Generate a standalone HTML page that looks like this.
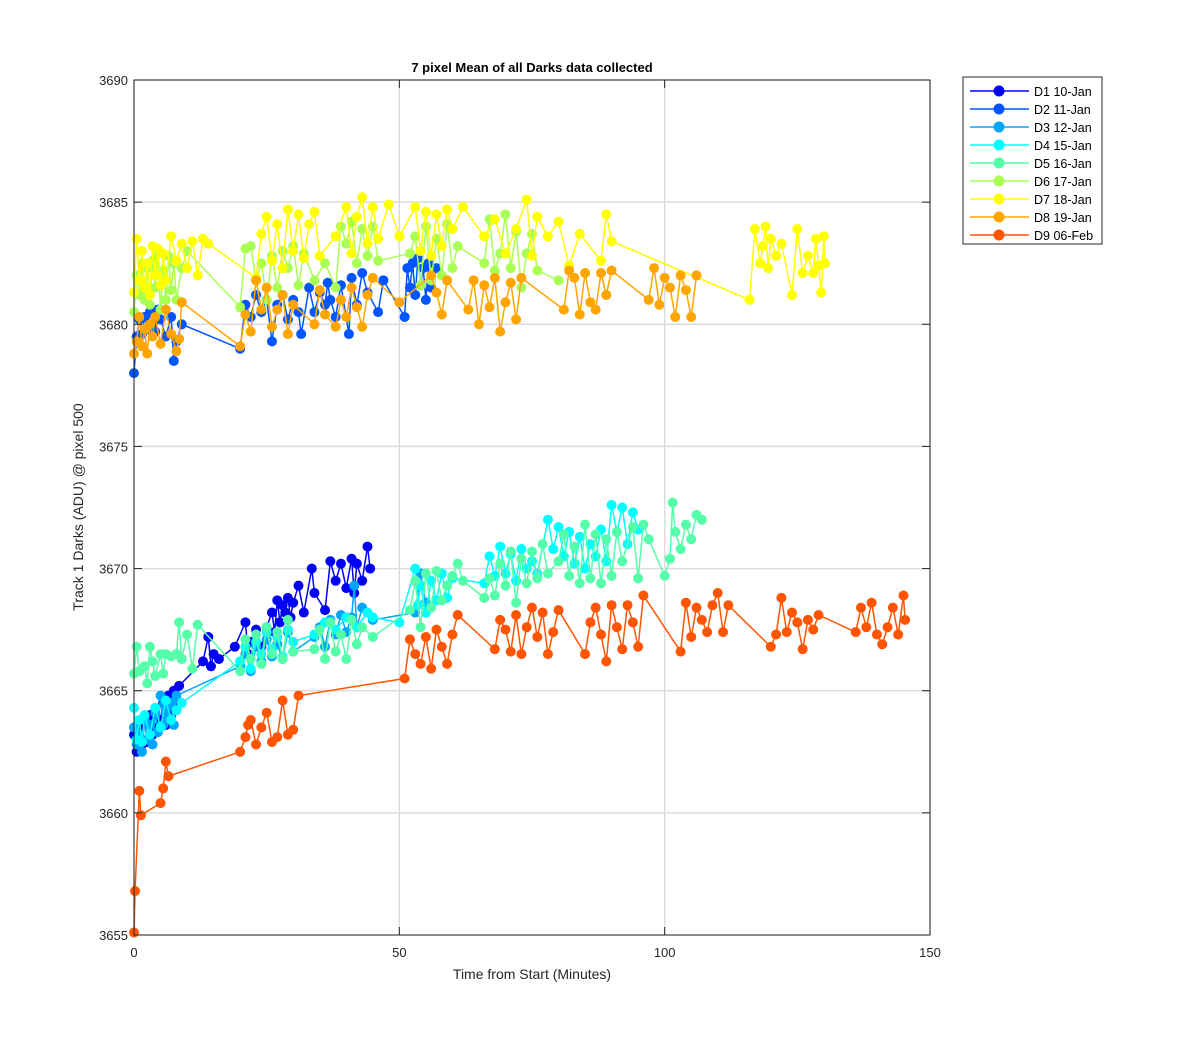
<!DOCTYPE html>
<html><head><meta charset="utf-8"><style>
body{margin:0;background:#fff;}
svg text{font-family:"Liberation Sans",Arial,sans-serif;}
</style></head><body>
<svg id="chart" width="1200" height="1050" xmlns="http://www.w3.org/2000/svg">
<rect x="0" y="0" width="1200" height="1050" fill="#fff"/>
<g id="grid"></g>
<g id="series"></g>
<rect x="134" y="80" width="796" height="855" fill="none" stroke="#262626" stroke-width="1"/>
<g id="ticks"></g>
<text x="532" y="72" text-anchor="middle" font-size="13" font-weight="bold" fill="#000">7 pixel Mean of all Darks data collected</text>
<text x="532" y="979" text-anchor="middle" font-size="14" fill="#262626">Time from Start (Minutes)</text>
<text x="83" y="507" text-anchor="middle" font-size="14" fill="#262626" transform="rotate(-90 83 507)">Track 1 Darks (ADU) @ pixel 500</text>
<g id="legend"></g>
</svg>
<script>
const xTicks=[0,50,100,150];
const yTicks=[3655,3660,3665,3670,3675,3680,3685,3690];
const seriesNames=["D1 10-Jan","D2 11-Jan","D3 12-Jan","D4 15-Jan","D5 16-Jan","D6 17-Jan","D7 18-Jan","D8 19-Jan","D9 06-Feb"];
const d1=[[0,3663.2],[0.5,3662.5],[1,3663.5],[1.5,3662.8],[2,3663.8],[2.5,3662.9],[3,3664],[3.5,3663.2],[4,3664.2],[4.5,3663.5],[5,3663.8],[5.5,3664.5],[6,3663.6],[6.5,3664.8],[7,3664],[7.5,3665],[8,3664.2],[8.5,3665.2],[13,3666.2],[14,3667.2],[14.5,3666],[15,3666.5],[16,3666.3],[19,3666.8],[21,3667.8],[21.5,3666.5],[22,3667],[23,3667.5],[24,3666.8],[25,3667.6],[26,3668.2],[26.5,3667.4],[27,3668.7],[27.5,3667.8],[28,3668.5],[28.5,3668.2],[29,3668.8],[29.5,3668],[30,3668.6],[31,3669.3],[32,3668.2],[33.5,3670],[34,3669],[36,3668.3],[37,3670.3],[38,3669.5],[39,3670.2],[40,3669.2],[41,3670.4],[41.5,3669],[42,3670.2],[43,3669.5],[44,3670.9],[44.5,3670]];
const d2=[[0,3678],[0.5,3679.5],[1,3680.2],[1.5,3679.6],[2,3680.3],[2.5,3679.8],[3,3680.5],[3.5,3680],[4,3679.7],[4.5,3680.6],[5,3680.2],[6,3679.5],[7,3680.3],[7.5,3678.5],[8,3679.3],[9,3680],[20,3679],[21,3680.8],[22,3680.3],[23,3681.2],[24,3680.5],[25,3681],[26,3679.3],[27,3680.8],[28,3681.2],[29,3680.2],[30,3681],[31,3680.5],[31.5,3679.6],[33,3681.5],[34,3680.5],[35,3681.3],[36,3680.8],[36.5,3681.7],[37,3681],[38,3680.3],[39,3681.6],[40.5,3679.6],[41,3681.9],[42,3680.8],[43,3682.1],[44,3681.3],[46,3680.5],[47,3681.8],[51,3680.3],[51.5,3682.3],[52,3681.5],[52.5,3682.5],[53,3681.2],[53.5,3682.7],[54,3681.6],[54.5,3682.3],[55,3681],[55.5,3682.5],[56,3681.5],[57,3682.3]];
const d3=[[0,3663.5],[0.5,3662.8],[1,3663.2],[1.5,3662.5],[2,3663.8],[2.5,3663],[3,3663.6],[3.5,3662.8],[4,3664.1],[4.5,3663.3],[5,3664.8],[5.5,3663.6],[6,3664.3],[6.5,3663.9],[7,3664.5],[7.5,3663.6],[8,3664.8],[20,3666],[21,3666.5],[22,3665.8],[23,3666.8],[24,3666.2],[25,3667.1],[26,3666.4],[27,3666.9],[28,3666.3],[29,3667.4],[30,3666.6],[34,3667.2],[35,3667.6],[36,3666.8],[37,3667.9],[38,3667.3],[39,3668.1],[40,3667.4],[41,3668],[41.5,3669.3],[42,3667.6],[43,3668.4],[45,3667.9],[53,3668.2],[54,3669.8],[55,3668.6]];
const d4=[[0,3664.3],[0.5,3663],[1,3663.8],[1.5,3662.9],[2,3664],[3,3663.2],[4,3664.3],[5,3663.5],[6,3664.6],[7,3663.8],[8,3664.2],[9,3664.5],[20,3666.2],[21,3666.8],[22,3665.9],[23,3667],[24,3666.5],[25,3667.4],[26,3666.7],[27,3667.2],[28,3666.4],[29,3667.5],[30,3667],[34,3667.3],[36,3667.8],[38,3667.5],[40,3668],[42,3667.6],[44,3668.2],[45,3668],[50,3667.8],[53,3670],[53.5,3668.5],[54,3669.3],[55,3668.2],[56,3669.5],[57,3668.7],[58,3669.8],[59,3668.8],[60,3669.6],[66,3669.4],[67,3670.5],[68,3669.7],[69,3670.9],[70,3669.8],[71,3670.6],[72,3669.5],[73,3670.8],[74,3670],[75,3670.3],[76,3669.8],[78,3672],[79,3670.8],[80,3671.7],[81,3670.5],[82,3671.5],[83,3670.2],[84,3671.3],[85,3670],[86,3671],[87,3670.5],[88,3671.6],[89,3670.3],[90,3672.6],[91,3671.5],[92,3672.5],[93,3671],[94,3672.3],[95,3671.6]];
const d5=[[0,3665.7],[0.5,3666.8],[1,3665.8],[2,3666],[2.5,3665.3],[3,3666.8],[3.5,3666.2],[4,3665.6],[5,3666.5],[5.5,3665.7],[6,3666.5],[7,3666.4],[8,3666.5],[8.5,3667.8],[9,3666.3],[10,3667.3],[11,3665.9],[12,3667.7],[20,3665.8],[21,3667.1],[22,3666.3],[23,3667.3],[24,3666.1],[25,3667.6],[26,3666.5],[27,3667.4],[28,3666.3],[29,3667.9],[30,3666.6],[34,3666.7],[35,3667.5],[36,3666.3],[37,3667.8],[38,3666.6],[39,3667.3],[40,3666.3],[41,3667.9],[42,3666.9],[43,3667.6],[45,3667.2],[52,3668.3],[53,3669.5],[54,3667.6],[55,3669.8],[56,3668.4],[57,3669.9],[58,3668.7],[59,3669.3],[60,3669.7],[61,3670.2],[62,3669.5],[66,3668.8],[67,3669.6],[68,3668.9],[69,3670.2],[70,3669.3],[71,3670.7],[72,3668.6],[73,3670.4],[74,3669.4],[75,3670.7],[76,3669.6],[77,3671],[78,3669.8],[80,3670.3],[81,3671.4],[82,3669.7],[83,3670.9],[84,3669.4],[85,3671.8],[86,3669.6],[87,3671.4],[88,3669.4],[89,3671.2],[90,3669.7],[91,3671.5],[92,3670.3],[94,3671.7],[95,3669.6],[96,3671.8],[97,3671.2],[100,3669.7],[101,3670.4],[101.5,3672.7],[102,3671.5],[103,3670.8],[104,3671.8],[105,3671.2],[106,3672.2],[107,3672]];
const d6=[[0,3680.5],[0.5,3682],[1,3681.2],[1.5,3682.5],[2,3681],[2.5,3682.3],[3,3680.8],[3.5,3682.6],[4,3681.5],[4.5,3682.9],[5,3680.6],[5.5,3682.2],[6,3681],[6.5,3682.8],[7,3681.4],[7.5,3682.5],[8,3681],[9,3682.3],[10,3683],[20,3680.7],[21,3683.1],[22,3683.2],[23,3681.8],[24,3682.5],[25,3681],[26,3682.8],[27,3681.5],[28,3683],[29,3682.3],[30,3683.2],[31,3681.6],[32,3682.9],[34,3681.8],[36,3682.5],[38,3681.5],[39,3684],[40,3683.3],[41,3684.2],[42,3682.5],[43,3683.9],[44,3682.8],[45,3684],[46,3682.6],[52,3682.9],[53,3683.6],[54,3681.6],[55,3684],[56,3681.8],[57,3683.5],[58,3682],[59,3684.1],[60,3682.3],[61,3683.2],[66,3682.5],[67,3684.3],[68,3682.2],[69,3682.9],[70,3684.5],[71,3682.3],[72,3683.8],[73,3681.5],[74,3682.9],[75,3683.7],[76,3682.2],[80,3681.8]];
const d7=[[0,3681.3],[0.5,3683.5],[1,3681.8],[1.5,3683],[2,3681.5],[2.5,3682.5],[3,3681.2],[3.5,3683.2],[4,3682],[4.5,3683.1],[5,3681.6],[5.5,3682.9],[6,3681.8],[7,3683.6],[8,3682.6],[9,3683.3],[10,3682.3],[11,3683.4],[12,3682],[13,3683.5],[14,3683.3],[23,3681.9],[24,3683.7],[25,3684.4],[26,3682.6],[27,3684.1],[28,3682.3],[29,3684.7],[30,3683],[31,3684.5],[32,3682.7],[33,3684.1],[34,3684.6],[35,3682.8],[38,3683.6],[40,3684.8],[41,3682.9],[42,3684.4],[43,3685.2],[44,3683.3],[45,3684.8],[46,3683.5],[48,3684.9],[50,3683.6],[53,3684.8],[54,3683],[55,3684.6],[56,3682.8],[57,3684.5],[58,3683.2],[59,3684.7],[60,3683.9],[62,3684.8],[66,3683.6],[68,3684.3],[70,3682.9],[72,3683.9],[74,3685.1],[75,3682.8],[76,3684.4],[78,3683.6],[80,3684.2],[82,3682.4],[84,3683.7],[88,3682.6],[89,3684.5],[90,3683.4],[116,3681],[117,3683.9],[118,3682.5],[118.5,3683.2],[119,3684],[119.5,3682.3],[120,3683.5],[121,3682.8],[122,3683.3],[124,3681.2],[125,3683.9],[126,3682.1],[127,3682.8],[128,3682.1],[128.5,3683.5],[129,3682.4],[129.5,3681.3],[130,3683.6],[130.2,3682.5]];
const d8=[[0,3678.8],[0.5,3679.3],[1,3680.3],[1.5,3679.1],[2,3679.8],[2.5,3678.8],[3,3680],[3.5,3679.5],[4,3680.3],[5,3679.2],[6,3680.6],[7,3679.6],[8,3678.9],[8.5,3679.4],[9,3680.9],[20,3679.1],[21,3680.4],[22,3679.7],[23,3681.8],[24,3680.6],[25,3681.5],[26,3679.9],[27,3680.6],[28,3681.2],[29,3679.6],[30,3680.8],[34,3680],[35,3681.4],[36,3680.4],[38,3679.9],[39,3681],[40,3680.3],[41,3681.5],[42,3680.7],[43,3679.9],[44,3681.2],[45,3681.9],[50,3680.9],[56,3682],[57,3681.3],[58,3680.4],[59,3681.8],[63,3680.6],[64,3681.8],[65,3680],[66,3681.6],[67,3680.7],[68,3681.9],[69,3679.7],[70,3680.9],[71,3681.7],[72,3680.2],[73,3681.9],[81,3680.6],[82,3682.2],[83,3681.9],[84,3680.4],[85,3682.1],[86,3680.9],[87,3680.6],[88,3682.1],[89,3681.2],[90,3682.2],[97,3681],[98,3682.3],[99,3680.8],[100,3681.9],[101,3681.5],[102,3680.3],[103,3682],[104,3681.4],[105,3680.3],[106,3682]];
const d9=[[0,3655.1],[0.2,3656.8],[1,3660.9],[1.3,3659.9],[5,3660.4],[5.5,3661],[6,3662.1],[6.5,3661.5],[20,3662.5],[21,3663.1],[21.5,3663.6],[22,3663.8],[23,3662.8],[24,3663.5],[25,3664.1],[26,3662.9],[27,3663.1],[28,3664.6],[29,3663.2],[30,3663.4],[31,3664.8],[51,3665.5],[52,3667.1],[53,3666.5],[54,3666.1],[55,3667.2],[56,3665.9],[57,3667.5],[58,3666.8],[59,3666.1],[60,3667.3],[61,3668.1],[68,3666.7],[69,3667.9],[70,3667.5],[71,3666.6],[72,3668.1],[73,3666.5],[74,3667.6],[75,3668.4],[76,3667.2],[77,3668.2],[78,3666.5],[79,3667.4],[80,3668.3],[85,3666.5],[86,3667.8],[87,3668.4],[88,3667.3],[89,3666.2],[90,3668.5],[91,3667.6],[92,3666.7],[93,3668.5],[94,3667.8],[95,3666.8],[96,3668.9],[103,3666.6],[104,3668.6],[105,3667.2],[106,3668.4],[107,3667.9],[108,3667.4],[109,3668.5],[110,3669],[111,3667.4],[112,3668.5],[120,3666.8],[121,3667.3],[122,3668.8],[123,3667.4],[124,3668.2],[125,3667.8],[126,3666.7],[127,3667.9],[128,3667.5],[129,3668.1],[136,3667.4],[137,3668.4],[138,3667.6],[139,3668.6],[140,3667.3],[141,3666.9],[142,3667.6],[143,3668.4],[144,3667.3],[145,3668.9],[145.3,3667.9]];
const allSeries=[d1,d2,d3,d4,d5,d6,d7,d8,d9];
const colors=["#0000f5","#0055ff","#00a5ff","#00ffff","#55ffaa","#aaff55","#ffff00","#ffa500","#ff5500"];

const NS="http://www.w3.org/2000/svg";
const X0=134,X1=930,Y0=935,Y1=80,xmin=0,xmax=150,ymin=3655,ymax=3690;
function xs(v){return X0+(v-xmin)/(xmax-xmin)*(X1-X0);}
function ys(v){return Y0-(v-ymin)/(ymax-ymin)*(Y0-Y1);}
function mk(tag,attrs,parent){const e=document.createElementNS(NS,tag);for(const k in attrs)e.setAttribute(k,attrs[k]);parent.appendChild(e);return e;}
const grid=document.getElementById('grid'),ticks=document.getElementById('ticks'),sg=document.getElementById('series'),lg=document.getElementById('legend');
xTicks.forEach(t=>{
  const g=mk('line',{x1:xs(t),x2:xs(t),y1:Y1,y2:Y0,stroke:'#dcdcdc','stroke-width':1.5},grid);
  
  
  const tk=mk('line',{x1:xs(t),x2:xs(t),y1:Y0,y2:Y0-8,stroke:'#262626'},ticks);
  
  
  const tk2=mk('line',{x1:xs(t),x2:xs(t),y1:Y1,y2:Y1+8,stroke:'#262626'},ticks);
  
  
  const tx=mk('text',{x:xs(t),y:Y0+22,'text-anchor':'middle','font-size':13,fill:'#262626'},ticks);
  tx.textContent=t;
  
  
});
yTicks.forEach(t=>{
  const g=mk('line',{x1:X0,x2:X1,y1:ys(t),y2:ys(t),stroke:'#dcdcdc','stroke-width':1.5},grid);
  
  
  const tk=mk('line',{x1:X0,x2:X0+8,y1:ys(t),y2:ys(t),stroke:'#262626'},ticks);
  
  
  const tk2=mk('line',{x1:X1,x2:X1-8,y1:ys(t),y2:ys(t),stroke:'#262626'},ticks);
  
  
  const tx=mk('text',{x:X0-6,y:ys(t)+5,'text-anchor':'end','font-size':13,fill:'#262626'},ticks);
  tx.textContent=t;
  
  
});
allSeries.forEach((s,i)=>{
  const g=mk('g',{},sg);
  
  
  const ln=mk('polyline',{points:s.map(p=>xs(p[0])+','+ys(p[1])).join(' '),fill:'none',stroke:colors[i],'stroke-width':1.5},g);
  
  
  s.forEach(p=>{
    const c=mk('circle',{cx:xs(p[0]),cy:ys(p[1]),r:5,fill:colors[i]},g);
    
    
  });
});
const box=mk('rect',{x:963,y:77,width:139,height:167,fill:'#fff',stroke:'#262626','stroke-width':1},lg);


seriesNames.forEach((n,i)=>{
  const y=91+i*18;
  const g=mk('g',{},lg);
  
  
  mk('line',{x1:970,x2:1029,y1:y,y2:y,stroke:colors[i],'stroke-width':1.5},g);
  mk('circle',{cx:999,cy:y,r:5.5,fill:colors[i]},g);
  const t=mk('text',{x:1034,y:y+5,'font-size':12.5,fill:'#000'},g);
  t.textContent=n;
});
</script>
</body></html>
